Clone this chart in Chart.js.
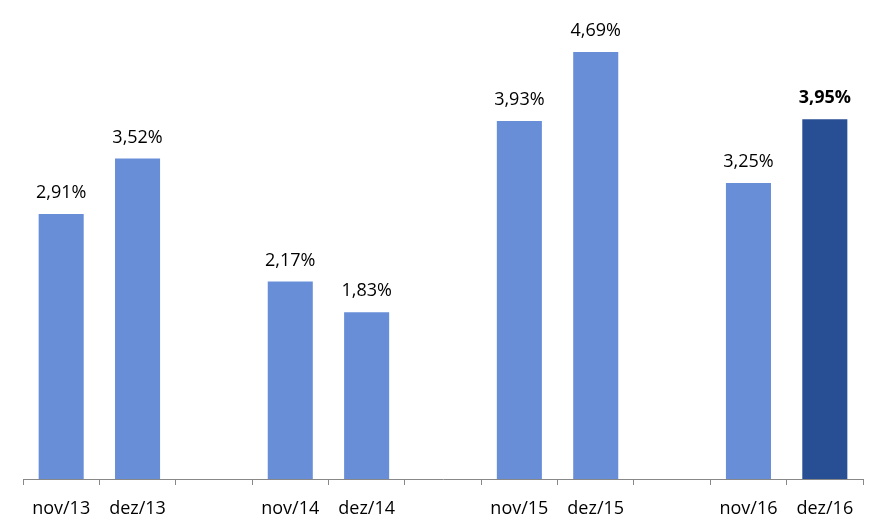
<!DOCTYPE html>
<html>
<head>
<meta charset="utf-8">
<script src="https://cdn.jsdelivr.net/npm/chart.js@4"></script>
<style>
  html, body { margin: 0; padding: 0; background: #fff; }
  #wrap { width: 886px; height: 531px; }
</style>
</head>
<body>
<div id="wrap"><canvas id="myChart" width="886" height="531"></canvas></div>
<script>
// data
const labels = ['nov/13', 'dez/13', '', 'nov/14', 'dez/14', '', 'nov/15', 'dez/15', '', 'nov/16', 'dez/16'];
const values = [2.91, 3.52, null, 2.17, 1.83, null, 3.93, 4.69, null, 3.25, 3.95];
const valueTexts = ['2,91%', '3,52%', '', '2,17%', '1,83%', '', '3,93%', '4,69%', '', '3,25%', '3,95%'];
const highlightIndex = 10;

const lightBlue = '#698ED8';
const darkBlue = '#284E93';
const fontFamily = '"Open Sans", sans-serif';

const barLabels = {
    id: 'barLabels',
    afterDatasetsDraw(chart) {
        const ctx = chart.ctx;
        const meta = chart.getDatasetMeta(0);
        ctx.save();
        ctx.fillStyle = '#000';
        ctx.textAlign = 'center';
        ctx.textBaseline = 'middle';
        meta.data.forEach((bar, i) => {
            if (values[i] === null) return;
            ctx.font = (i === highlightIndex ? 'bold ' : '') + '18px ' + fontFamily;
            ctx.fillText(valueTexts[i], bar.x, bar.y - 21);
        });
        ctx.restore();
    }
};

const displayChart = () => {
    const ctx = document.getElementById('myChart');
    new Chart(ctx, {
        type: 'bar',
        data: {
            labels: labels,
            datasets: [{
                data: values,
                backgroundColor: values.map((v, i) => i === highlightIndex ? darkBlue : lightBlue),
                borderWidth: 0,
                barPercentage: 0.59,
                categoryPercentage: 1
            }]
        },
        options: {
            responsive: false,
            animation: false,
            layout: { padding: { left: 23, right: 23, top: 0, bottom: 0 } },
            plugins: {
                legend: { display: false },
                tooltip: { enabled: false }
            },
            scales: {
                x: {
                    afterFit: (scale) => { scale.height = 52; },
                    grid: {
                        offset: true,
                        drawOnChartArea: false,
                        drawTicks: true,
                        tickLength: 6,
                        color: '#888'
                    },
                    border: { color: '#888', width: 1 },
                    ticks: {
                        color: '#000',
                        padding: 13,
                        maxRotation: 0,
                        autoSkip: false,
                        font: { family: fontFamily, size: 18 }
                    }
                },
                y: {
                    display: false,
                    min: 0,
                    max: 5.26
                }
            }
        },
        plugins: [barLabels]
    });
}

displayChart();
</script>
</body>
</html>
